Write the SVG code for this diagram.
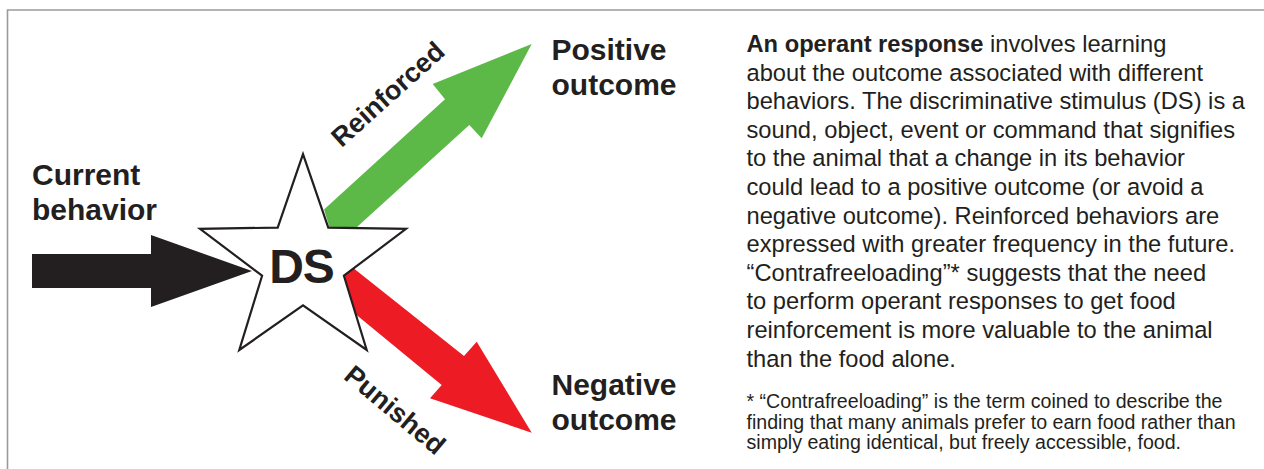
<svg xmlns="http://www.w3.org/2000/svg" width="1264" height="469" viewBox="0 0 1264 469">
<style>
.lbl{font-family:"Liberation Sans",Arial,sans-serif;font-weight:bold;font-size:30px;fill:#231f20}
.body{font-family:"Liberation Sans",Arial,sans-serif;font-size:23.7px;fill:#231f20}
.fn{font-family:"Liberation Sans",Arial,sans-serif;font-size:19.6px;fill:#231f20}
.rot{font-family:"Liberation Sans",Arial,sans-serif;font-weight:bold;font-size:27px;fill:#231f20;text-anchor:middle}
</style>
<rect width="1264" height="469" fill="#ffffff"/>
<path d="M7.5,469 V10 H1264" fill="none" stroke="#9a9a9a" stroke-width="1.6"/>

<g id="connectors">
  <polygon id="arrow-current" points="32,254 151,254 151,235 252,271 151,307 151,288 32,288" fill="#231f20"/>
  <polygon id="arrow-reinforced" points="324,209.5 445,99.3 432.7,84 531.7,44 481.7,138.3 469.3,125 357,227 335,245" fill="#5cb947"/>
  <polygon id="arrow-punished" points="340,257.5 464,356 476.7,341.7 531.7,432.7 430,398.3 441.7,385 345,305.5" fill="#ed1c24"/>
  <text class="rot" transform="translate(394,101) rotate(-42)">Reinforced</text>
  <text class="rot" transform="translate(389,417) rotate(40)">Punished</text>
</g>

<g id="node-current-behavior">
  <text class="lbl" x="32" y="185">Current</text>
  <text class="lbl" x="32" y="220">behavior</text>
</g>

<g id="node-ds">
  <polygon points="303,154.1 328.3,227.6 406,228.9 343.9,275.7 366.7,350 303,305.4 239.3,350 262.1,275.7 200,228.9 277.7,227.6" fill="#ffffff" stroke="#231f20" stroke-width="2.2" stroke-linejoin="miter"/>
  <text class="lbl" x="301.5" y="282.7" style="font-size:48px;text-anchor:middle;letter-spacing:-1px">DS</text>
</g>

<g id="node-positive-outcome">
  <text class="lbl" x="551.5" y="60">Positive</text>
  <text class="lbl" x="551.5" y="95">outcome</text>
</g>

<g id="node-negative-outcome">
  <text class="lbl" x="551.5" y="395">Negative</text>
  <text class="lbl" x="551.5" y="430">outcome</text>
</g>

<g id="description">
  <text class="body" x="746.5" y="52"><tspan font-weight="bold">An operant response</tspan> involves learning</text>
  <text class="body" x="746.5" y="80.6">about the outcome associated with different</text>
  <text class="body" x="746.5" y="109.2">behaviors. The discriminative stimulus (DS) is a</text>
  <text class="body" x="746.5" y="137.8">sound, object, event or command that signifies</text>
  <text class="body" x="746.5" y="166.4">to the animal that a change in its behavior</text>
  <text class="body" x="746.5" y="195">could lead to a positive outcome (or avoid a</text>
  <text class="body" x="746.5" y="223.6">negative outcome). Reinforced behaviors are</text>
  <text class="body" x="746.5" y="252.2">expressed with greater frequency in the future.</text>
  <text class="body" x="746.5" y="280.8">“Contrafreeloading”* suggests that the need</text>
  <text class="body" x="746.5" y="309.4">to perform operant responses to get food</text>
  <text class="body" x="746.5" y="338">reinforcement is more valuable to the animal</text>
  <text class="body" x="746.5" y="366.6">than the food alone.</text>
</g>

<g id="footnote">
  <text class="fn" x="746.5" y="408">* “Contrafreeloading” is the term coined to describe the</text>
  <text class="fn" x="746.5" y="428.5">finding that many animals prefer to earn food rather than</text>
  <text class="fn" x="746.5" y="449">simply eating identical, but freely accessible, food.</text>
</g>
</svg>
